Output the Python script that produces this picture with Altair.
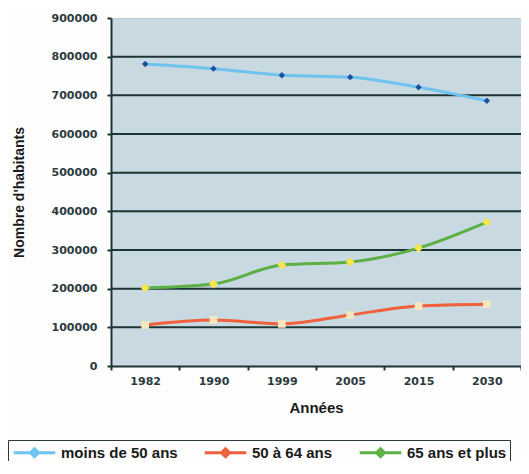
import altair as alt
import pandas as pd

years = ["1982", "1990", "1999", "2005", "2015", "2030"]
series_names = ["moins de 50 ans", "50 à 64 ans", "65 ans et plus"]
moins50 = [781000, 769000, 752000, 747000, 721000, 686000]
de50a64 = [106000, 119000, 109000, 132000, 155000, 160000]
plus65 = [202000, 212000, 261000, 269000, 305000, 372000]
grid_values = [100000, 200000, 300000, 400000, 500000, 600000, 700000, 800000]
y_ticks = [0, 100000, 200000, 300000, 400000, 500000, 600000, 700000, 800000, 900000]

line_colors = ["#6ec4ee", "#f0603c", "#5db044"]
marker_colors = ["#1c4f9c", "#f6e6bc", "#f6e64a"]
marker_shapes = ["diamond", "square", "diamond"]
marker_sizes = [40, 80, 110]

rows = []
for name, vals in zip(series_names, [moins50, de50a64, plus65]):
    for y, v in zip(years, vals):
        rows.append({"Année": y, "serie": name, "val": v})
df = pd.DataFrame(rows)
grid_df = pd.DataFrame({"val": grid_values})

xenc = alt.X("Année:N", sort=years, bandPosition=0.5,
             scale=alt.Scale(type="band", paddingInner=0, paddingOuter=0),
             axis=alt.Axis(title="Années", labelAngle=0, tickBand="extent",
                           labelFont="DejaVu Sans", labelFontWeight="bold", labelFontSize=11,
                           labelColor="#2b3b40", labelPadding=5,
                           titleFont="Liberation Sans", titleFontWeight="bold", titleFontSize=15,
                           titleColor="#1a1a1a", titlePadding=14,
                           domainColor="#1e3434", domainWidth=2, tickColor="#1e3434",
                           tickWidth=2, tickSize=4, grid=False))
yscale = alt.Scale(domain=[0, 900000], nice=False)
yaxis = alt.Axis(title="Nombre d'habitants", values=y_ticks, format="d",
                 labelFont="DejaVu Sans", labelFontWeight="bold", labelFontSize=11,
                 labelColor="#2b3b40", labelPadding=10,
                 titleFont="Liberation Sans", titleFontWeight="bold", titleFontSize=14,
                 titleColor="#1a1a1a", titlePadding=25,
                 domainColor="#1e3434", domainWidth=2, tickColor="#1e3434",
                 tickWidth=2, tickSize=4, grid=False)
yenc = alt.Y("val:Q", scale=yscale, axis=yaxis)

rules = alt.Chart(grid_df).mark_rule(color="#1e3434", strokeWidth=2).encode(
    y=alt.Y("val:Q", scale=yscale, axis=yaxis)
)

legend_path = "M-2.6,0L2.6,0M0,-0.5L0.5,0L0,0.5L-0.5,0Z"

lines = alt.Chart(df).mark_line(strokeWidth=3, interpolate="monotone").encode(
    x=xenc, y=yenc,
    color=alt.Color("serie:N", sort=series_names,
                    scale=alt.Scale(domain=series_names, range=line_colors),
                    legend=alt.Legend(title=None, orient="none", direction="horizontal",
                                      legendX=-103, legendY=422, columns=3,
                                      symbolType=legend_path, symbolSize=256,
                                      symbolOffset=14,
                                      symbolStrokeWidth=3, labelFont="Liberation Sans",
                                      labelFontWeight="bold", labelFontSize=15,
                                      labelColor="#1a1a1a", labelOffset=17,
                                      columnPadding=20, strokeColor="#2a3a3a",
                                      padding=3, labelLimit=300)),
    detail="serie:N",
)

points = alt.Chart(df).mark_point(filled=True, opacity=1).encode(
    x=xenc, y=yenc,
    fill=alt.Fill("serie:N", scale=alt.Scale(domain=series_names, range=marker_colors), legend=None),
    shape=alt.Shape("serie:N", scale=alt.Scale(domain=series_names, range=marker_shapes), legend=None),
    size=alt.Size("serie:N", scale=alt.Scale(domain=series_names, range=marker_sizes), legend=None),
)

chart = alt.layer(rules, lines, points).resolve_scale(
    color="independent", fill="independent", shape="independent", size="independent"
).properties(
    width=410, height=348,
    autosize=alt.AutoSizeParams(type="none"),
    padding={"left": 103, "top": 10, "right": 0, "bottom": 95},
    background="#fdfdfd",
).configure_view(fill="#c9d9e1", stroke="#b8ccd4", strokeWidth=1)

chart.save("out.html", embed_options={"renderer": "svg", "actions": False})
